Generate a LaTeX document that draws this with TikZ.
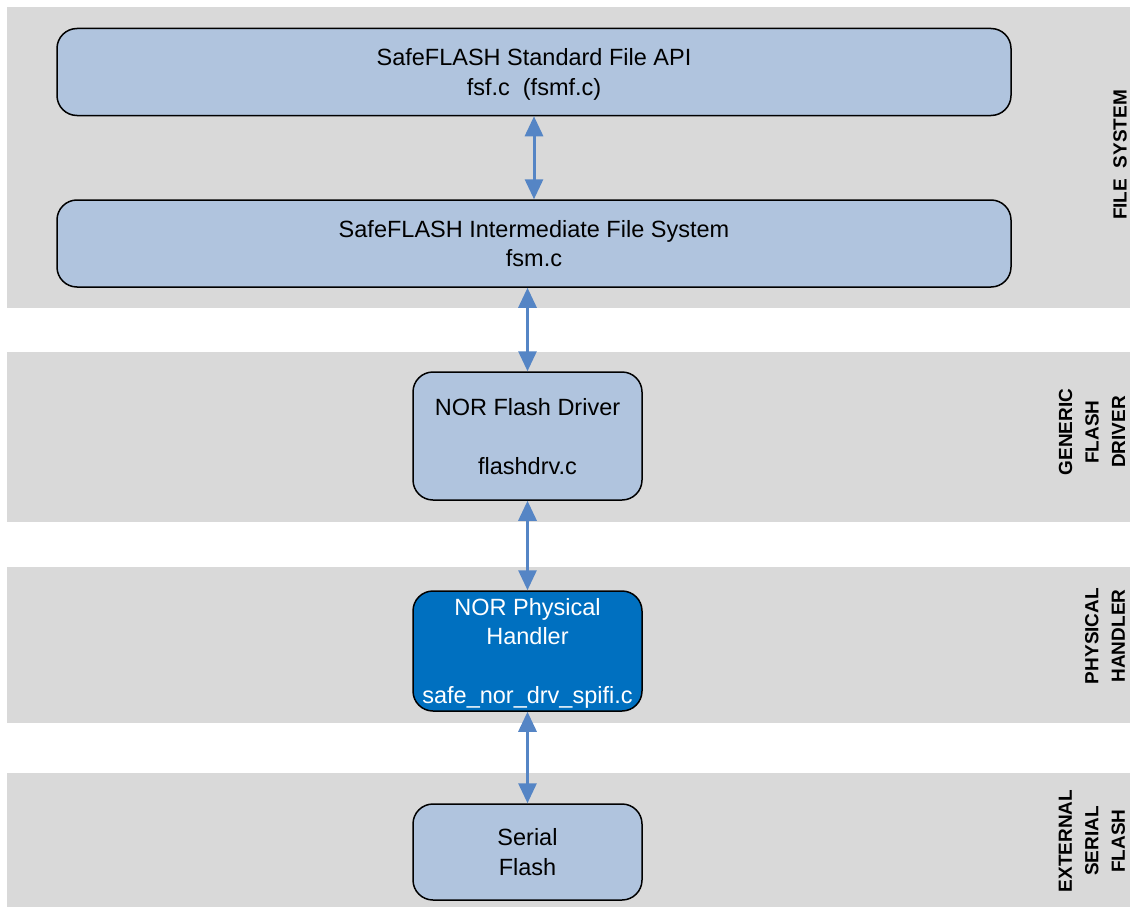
\documentclass[tikz,border=0pt]{standalone}
\usepackage{fontspec}
\setmainfont{Liberation Sans}
\usetikzlibrary{arrows.meta}
\definecolor{band}{HTML}{D9D9D9}
\definecolor{boxfill}{HTML}{B0C4DE}
\definecolor{darkbox}{HTML}{0070C0}
\definecolor{linkblue}{HTML}{5585C5}
\tikzset{
  layer/.style={fill=band, draw=none},
  unit/.style={draw=black, line width=1.5pt, rounded corners=20pt, fill=boxfill, align=center,
    font=\fontsize{23.5}{29.5}\selectfont, inner sep=0pt, text depth=0pt},
  hw/.style={unit, fill=darkbox, text=white},
  link/.style={draw=linkblue, line width=3pt,
    {Triangle[length=20pt,width=18pt]}-{Triangle[length=20pt,width=18pt]}},
  tag/.style={rotate=90, align=center, font=\fontsize{19}{26.5}\selectfont\bfseries},
}

\begin{document}
\begin{tikzpicture}[x=1pt,y=-1pt]
  \useasboundingbox (0,0) rectangle (1130,907);
  % layers
  \fill[layer] (7,7) rectangle (1130,308);
  \fill[layer] (7,352) rectangle (1130,522);
  \fill[layer] (7,567) rectangle (1130,723);
  \fill[layer] (7,773) rectangle (1130,907);
  % boxes
  \node[unit, minimum width=954pt, minimum height=87pt] (fsapi) at (534,72)
    {SafeFLASH Standard File API\\fsf.c~~(fsmf.c)};
  \node[unit, minimum width=954pt, minimum height=87pt] (fsmid) at (534,243.5)
    {SafeFLASH Intermediate File System\\fsm.c};
  \node[unit, minimum width=229pt, minimum height=128pt] (flashdrv) at (527.5,436)
    {NOR Flash Driver\\ \\flashdrv.c};
  \node[hw, minimum width=229pt, minimum height=120pt] (phys) at (527.5,651)
    {NOR Physical\\Handler\\ \\safe\_nor\_drv\_spifi.c};
  \node[unit, minimum width=229pt, minimum height=96pt] (serial) at (527.5,852)
    {Serial\\Flash};
  % links
  \draw[link] (fsapi.south) -- (fsmid.north);
  \draw[link] (fsmid.south -| flashdrv.north) -- (flashdrv.north);
  \draw[link] (flashdrv.south) -- (phys.north);
  \draw[link] (phys.south) -- (serial.north);
  % layer names
  \node[tag] (fstag) at (1120,155) {FILE\ \ SYSTEM};
  \node[tag] (drvtag) at (1092,432) {GENERIC\\FLASH\\DRIVER};
  \node[tag] (phystag) at (1105,636) {PHYSICAL\\HANDLER};
  \node[tag] (exttag) at (1092,841) {EXTERNAL\\SERIAL\\FLASH};
\end{tikzpicture}
\end{document}
